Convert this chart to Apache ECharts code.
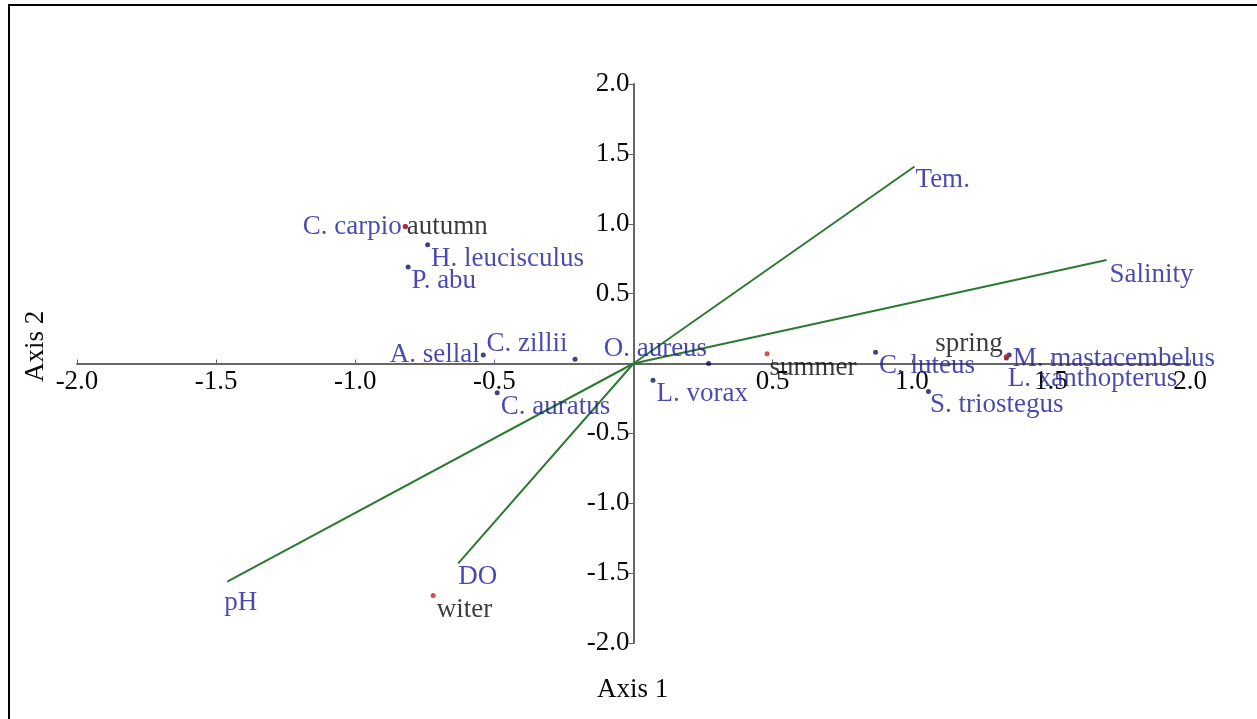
<!DOCTYPE html>
<html>
<head>
<meta charset="utf-8">
<script src="https://cdn.jsdelivr.net/npm/echarts@6/dist/echarts.min.js"></script>
<style>
html,body{margin:0;padding:0;background:#fff;}
#chart{width:1257px;height:719px;}
</style>
</head>
<body>
<div id="chart"></div>
<script>
// ---- Data ----
const speciesNames = ['C. carpio','H. leucisculus','P. abu','A. sellal','C. zillii','O. aureus','C. auratus','L. vorax','C. luteus','M. mastacembelus','L. xanthopterus','S. triostegus'];
const speciesX = [-0.82,-0.74,-0.81,-0.54,-0.21,0.27,-0.49,0.07,0.87,1.35,1.34,1.06];
const speciesY = [0.98,0.85,0.69,0.06,0.03,0.00,-0.21,-0.12,0.08,0.06,0.04,-0.20];

const seasonNames = ['autumn','summer','spring','witer'];
const seasonX = [-0.82,0.48,1.34,-0.72];
const seasonY = [0.98,0.07,0.05,-1.66];

const envNames = ['Tem.','Salinity','pH','DO'];
const envX = [1.01,1.70,-1.46,-0.63];
const envY = [1.41,0.74,-1.56,-1.43];

const tickValues = [-2.0,-1.5,-1.0,-0.5,0.5,1.0,1.5,2.0];

// ---- Label placement (styling only) ----
const labelPlace = {
  'C. carpio': {position:'left', offset:[2,0]},
  'H. leucisculus': {position:'right', offset:[-2,14]},
  'P. abu': {position:'right', offset:[-2,14]},
  'A. sellal': {position:'left', offset:[2,0]},
  'C. zillii': {position:'left', offset:[-2,-15]},
  'O. aureus': {position:'left', offset:[4,-15]},
  'C. auratus': {position:'right', offset:[-2,14]},
  'L. vorax': {position:'right', offset:[-2,14]},
  'C. luteus': {position:'right', offset:[-2,14]},
  'M. mastacembelus': {position:'right', offset:[-2,4]},
  'L. xanthopterus': {position:'right', offset:[-4,21]},
  'S. triostegus': {position:'right', offset:[-4,13]},
  'autumn': {position:'right', offset:[-4,0]},
  'summer': {position:'right', offset:[-3,14]},
  'spring': {position:'left', offset:[2,-13]},
  'witer': {position:'right', offset:[-2,14]},
  'Tem.': {position:'right', offset:[-2,13]},
  'Salinity': {position:'right', offset:[0,15]},
  'pH': {position:'right', offset:[-6,21]},
  'DO': {position:'right', offset:[-3,14]}
};

const FONT = 'Liberation Serif';
const FS = 27;
const BLUE_TEXT = '#1c1c9c';
const DOT = '#121268';
const GREEN = '#2c7a32';
const AXIS = '#666';

const GRID = {left:77, right:67, top:84, bottom:76};
const W = 1257, H = 719;
const gridW = W - GRID.left - GRID.right;
const gridH = H - GRID.top - GRID.bottom;

function pts(names, xs, ys, color) {
  return names.map((n, i) => ({
    name: n,
    value: [xs[i], ys[i]],
    label: Object.assign({show:true, formatter:n, color:color, fontFamily:FONT, fontSize:FS, distance:3}, labelPlace[n])
  }));
}

const series = [];
envNames.forEach((n, i) => {
  series.push({
    type:'line', name:n, data:[[0,0],[envX[i],envY[i]]],
    showSymbol:false, symbol:'none', silent:true,
    lineStyle:{color:GREEN, width:2}, z:3
  });
});
series.push({
  type:'scatter', name:'envLabels', symbolSize:0, silent:true,
  data: pts(envNames, envX, envY, BLUE_TEXT), z:4
});
series.push({
  type:'scatter', name:'species', symbolSize:5, silent:true,
  itemStyle:{color:DOT},
  data: pts(speciesNames, speciesX, speciesY, BLUE_TEXT), z:5
});
series.push({
  type:'scatter', name:'seasons', symbolSize:5, silent:true,
  itemStyle:{color:'#d02020'},
  data: pts(seasonNames, seasonX, seasonY, '#0a0a0a'), z:5
});

const fmt = v => tickValues.some(t => Math.abs(t - v) < 1e-9) ? v.toFixed(1) : '';

const chart = echarts.init(document.getElementById('chart'), null, {renderer:'canvas'});
chart.setOption({
  animation:false,
  backgroundColor:'#fff',
  grid:Object.assign({containLabel:false}, GRID),
  xAxis:{
    type:'value', min:-2, max:2, interval:0.5,
    position:'bottom', offset:-gridH/2,
    axisLine:{show:true, onZero:false, lineStyle:{color:AXIS, width:2}},
    axisTick:{show:true, inside:true, length:4, lineStyle:{color:AXIS, width:1}},
    axisLabel:{show:true, showMinLabel:true, showMaxLabel:true, formatter:fmt, color:'#0a0a0a', fontFamily:FONT, fontSize:FS, margin:5},
    splitLine:{show:false}
  },
  yAxis:{
    type:'value', min:-2, max:2, interval:0.5,
    position:'left', offset:-gridW/2,
    axisLine:{show:true, onZero:false, lineStyle:{color:AXIS, width:2}},
    axisTick:{show:true, inside:false, length:5, lineStyle:{color:AXIS, width:1}},
    axisLabel:{show:true, showMinLabel:true, showMaxLabel:true, formatter:fmt, color:'#0a0a0a', fontFamily:FONT, fontSize:FS, margin:4},
    splitLine:{show:false}
  },
  graphic:[
    {type:'line', shape:{x1:8, y1:5, x2:1257, y2:5}, style:{stroke:'#000', lineWidth:2}},
    {type:'line', shape:{x1:9, y1:5, x2:9, y2:719}, style:{stroke:'#000', lineWidth:2}},
    {type:'text', left:597, top:676, style:{text:'Axis 1', fill:'#0a0a0a', font:FS+'px "'+FONT+'"'}},
    {type:'text', x:22, y:382, rotation:Math.PI/2, style:{text:'Axis 2', fill:'#0a0a0a', font:FS+'px "'+FONT+'"', textAlign:'left', textVerticalAlign:'top'}}
  ],
  series: series
});
</script>
</body>
</html>
